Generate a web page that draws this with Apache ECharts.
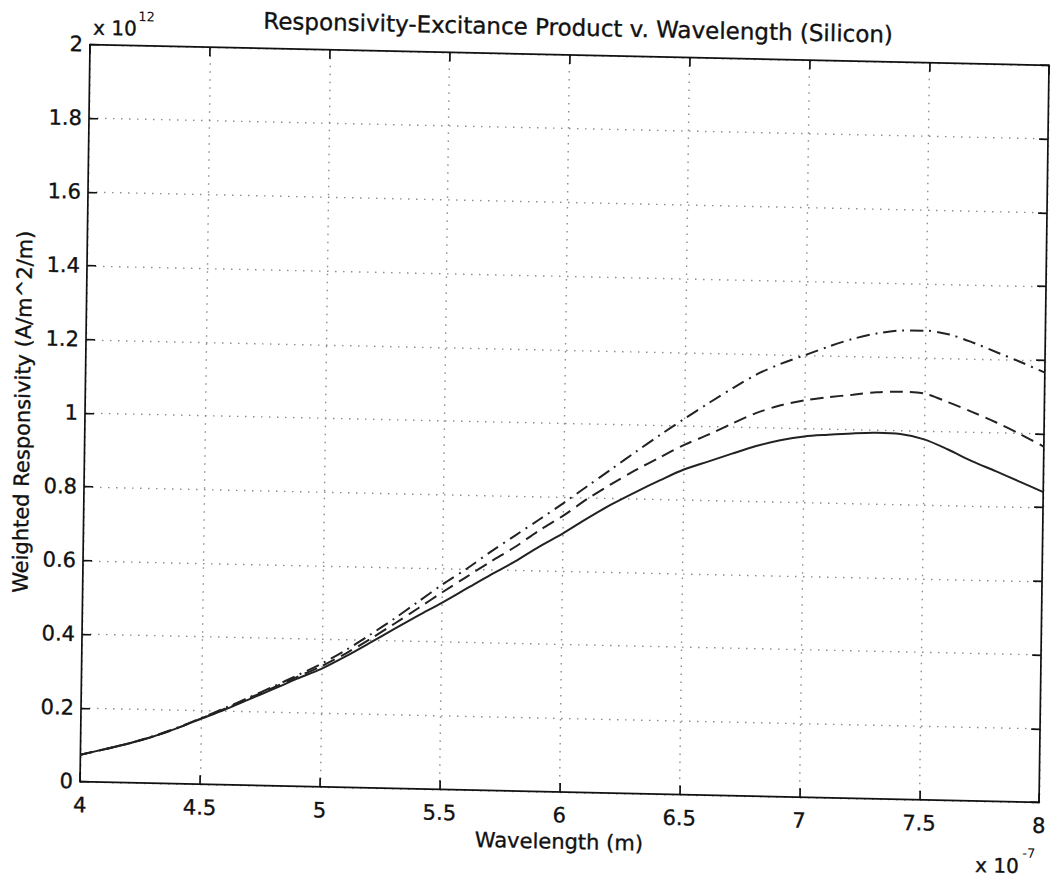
<!DOCTYPE html>
<html>
<head>
<meta charset="utf-8">
<script src="https://cdn.jsdelivr.net/npm/echarts@6/dist/echarts.min.js"></script>
<style>
  html, body { margin: 0; padding: 0; background: #ffffff; overflow: hidden; }
  #chart {
    width: 1054px; height: 882px;
    transform-origin: 566px 424px;
    transform: matrix(1, 0.0217, -0.0135, 1, 0, 0);
  }
</style>
</head>
<body>
<div id="chart"></div>
<script>
// ---- data (wavelength in units of 1e-7 m, responsivity in units of 1e12 A/m^2/m) ----
const wavelength = [4.0, 4.1, 4.2, 4.3, 4.4, 4.5, 4.6, 4.7, 4.8, 4.9,
                    5.0, 5.1, 5.2, 5.3, 5.4, 5.5, 5.6, 5.7, 5.8, 5.9,
                    6.0, 6.1, 6.2, 6.3, 6.4, 6.5, 6.6, 6.7, 6.8, 6.9,
                    7.0, 7.1, 7.2, 7.3, 7.4, 7.5, 7.6, 7.7, 7.8, 7.9,
                    8.0];
const solidCurve = [0.073, 0.089, 0.106, 0.126, 0.150, 0.177, 0.204, 0.233, 0.262, 0.292,
                    0.320, 0.355, 0.393, 0.432, 0.470, 0.507, 0.546, 0.585, 0.622, 0.664,
                    0.702, 0.744, 0.783, 0.818, 0.851, 0.882, 0.905, 0.928, 0.950, 0.967,
                    0.979, 0.985, 0.990, 0.993, 0.991, 0.978, 0.952, 0.922, 0.896, 0.869,
                    0.842];
const dashedCurve = [0.073, 0.089, 0.106, 0.126, 0.150, 0.178, 0.206, 0.236, 0.266, 0.297,
                     0.327, 0.363, 0.403, 0.446, 0.490, 0.535, 0.578, 0.621, 0.662, 0.708,
                     0.750, 0.797, 0.839, 0.878, 0.914, 0.949, 0.978, 1.010, 1.040, 1.062,
                     1.077, 1.087, 1.095, 1.103, 1.106, 1.102, 1.080, 1.055, 1.028, 0.998,
                     0.965];
const dashDotCurve = [0.073, 0.089, 0.106, 0.127, 0.151, 0.179, 0.208, 0.238, 0.269, 0.301,
                      0.334, 0.372, 0.415, 0.460, 0.508, 0.556, 0.600, 0.648, 0.693, 0.738,
                      0.784, 0.832, 0.880, 0.928, 0.975, 1.020, 1.064, 1.106, 1.145, 1.175,
                      1.200, 1.225, 1.247, 1.263, 1.272, 1.273, 1.264, 1.243, 1.218, 1.193,
                      1.166];
const xTicks = [4, 4.5, 5, 5.5, 6, 6.5, 7, 7.5, 8];
const yTicks = [0, 0.2, 0.4, 0.6, 0.8, 1, 1.2, 1.4, 1.6, 1.8, 2];
const titleText = 'Responsivity-Excitance Product v. Wavelength (Silicon)';
const xAxisName = 'Wavelength (m)';
const yAxisName = 'Weighted Responsivity (A/m^2/m)';
const xExponent = ['x 10', '-7'];
const yExponent = ['x 10', '12'];

// ---- styling ----
const FONT = 'DejaVu Sans';
const INK = '#111111';
const LINE = '#222222';
const GRID = '#8c8c8c';
const HEAVY = { textBorderColor: INK, textBorderWidth: 0.35 };

const xMin = xTicks[0], xMax = xTicks[xTicks.length - 1], xStep = xTicks[1] - xTicks[0];
const yMin = yTicks[0], yMax = yTicks[yTicks.length - 1], yStep = yTicks[1] - yTicks[0];

const pairs = arr => wavelength.map((w, i) => [w, arr[i]]);

const frameAxis = (isX, pos, primary) => ({
  type: 'value',
  position: pos,
  min: isX ? xMin : yMin,
  max: isX ? xMax : yMax,
  interval: isX ? xStep : yStep,
  axisLine: { show: true, onZero: false, lineStyle: { color: INK, width: 1.7 } },
  axisTick: { show: true, inside: true, length: 9, lineStyle: { color: INK, width: 1.7 } },
  axisLabel: primary ? Object.assign({
    show: true, margin: isX ? 13 : 7, fontFamily: FONT, fontSize: 21, color: INK
  }, HEAVY) : { show: false },
  splitLine: primary ? {
    show: true, lineStyle: { color: GRID, width: 1.4, type: [1.5, 6.5] }
  } : { show: false },
  name: primary ? (isX ? xAxisName : yAxisName) : '',
  nameLocation: 'middle',
  nameGap: isX ? 37 : 49,
  nameTextStyle: Object.assign({ fontFamily: FONT, fontSize: 21, color: INK }, HEAVY)
});

const chart = echarts.init(document.getElementById('chart'), null, { renderer: 'svg' });
chart.setOption({
  animation: false,
  backgroundColor: '#ffffff',
  title: {
    text: titleText,
    left: 258,
    top: 16,
    padding: 0,
    textStyle: Object.assign({ fontFamily: FONT, fontSize: 23, fontWeight: 'normal', color: INK }, HEAVY)
  },
  grid: { left: 85, right: 7, top: 55, bottom: 90, containLabel: false },
  xAxis: [frameAxis(true, 'bottom', true), frameAxis(true, 'top', false)],
  yAxis: [frameAxis(false, 'left', true), frameAxis(false, 'right', false)],
  graphic: [
    { type: 'text', x: 88, y: 38, style: Object.assign({ text: yExponent[0], font: '20px "DejaVu Sans"', fill: INK, stroke: INK, lineWidth: 0.35, textAlign: 'left', textVerticalAlign: 'middle' }) },
    { type: 'text', x: 133, y: 26, style: { text: yExponent[1], font: '13px "DejaVu Sans"', fill: INK, textAlign: 'left', textVerticalAlign: 'middle' } },
    { type: 'text', x: 981, y: 856, style: { text: xExponent[0], font: '20px "DejaVu Sans"', fill: INK, stroke: INK, lineWidth: 0.35, textAlign: 'left', textVerticalAlign: 'middle' } },
    { type: 'text', x: 1028, y: 843, style: { text: xExponent[1], font: '13px "DejaVu Sans"', fill: INK, textAlign: 'left', textVerticalAlign: 'middle' } }
  ],
  series: [
    { type: 'line', name: 'solid', data: pairs(solidCurve), symbol: 'none', smooth: 0.3,
      lineStyle: { color: LINE, width: 2, type: 'solid' } },
    { type: 'line', name: 'dashed', data: pairs(dashedCurve), symbol: 'none', smooth: 0.3,
      lineStyle: { color: LINE, width: 2, type: [13, 7] } },
    { type: 'line', name: 'dashdot', data: pairs(dashDotCurve), symbol: 'none', smooth: 0.3,
      lineStyle: { color: LINE, width: 2, type: [13, 6, 2, 6] } }
  ]
});
</script>
</body>
</html>
